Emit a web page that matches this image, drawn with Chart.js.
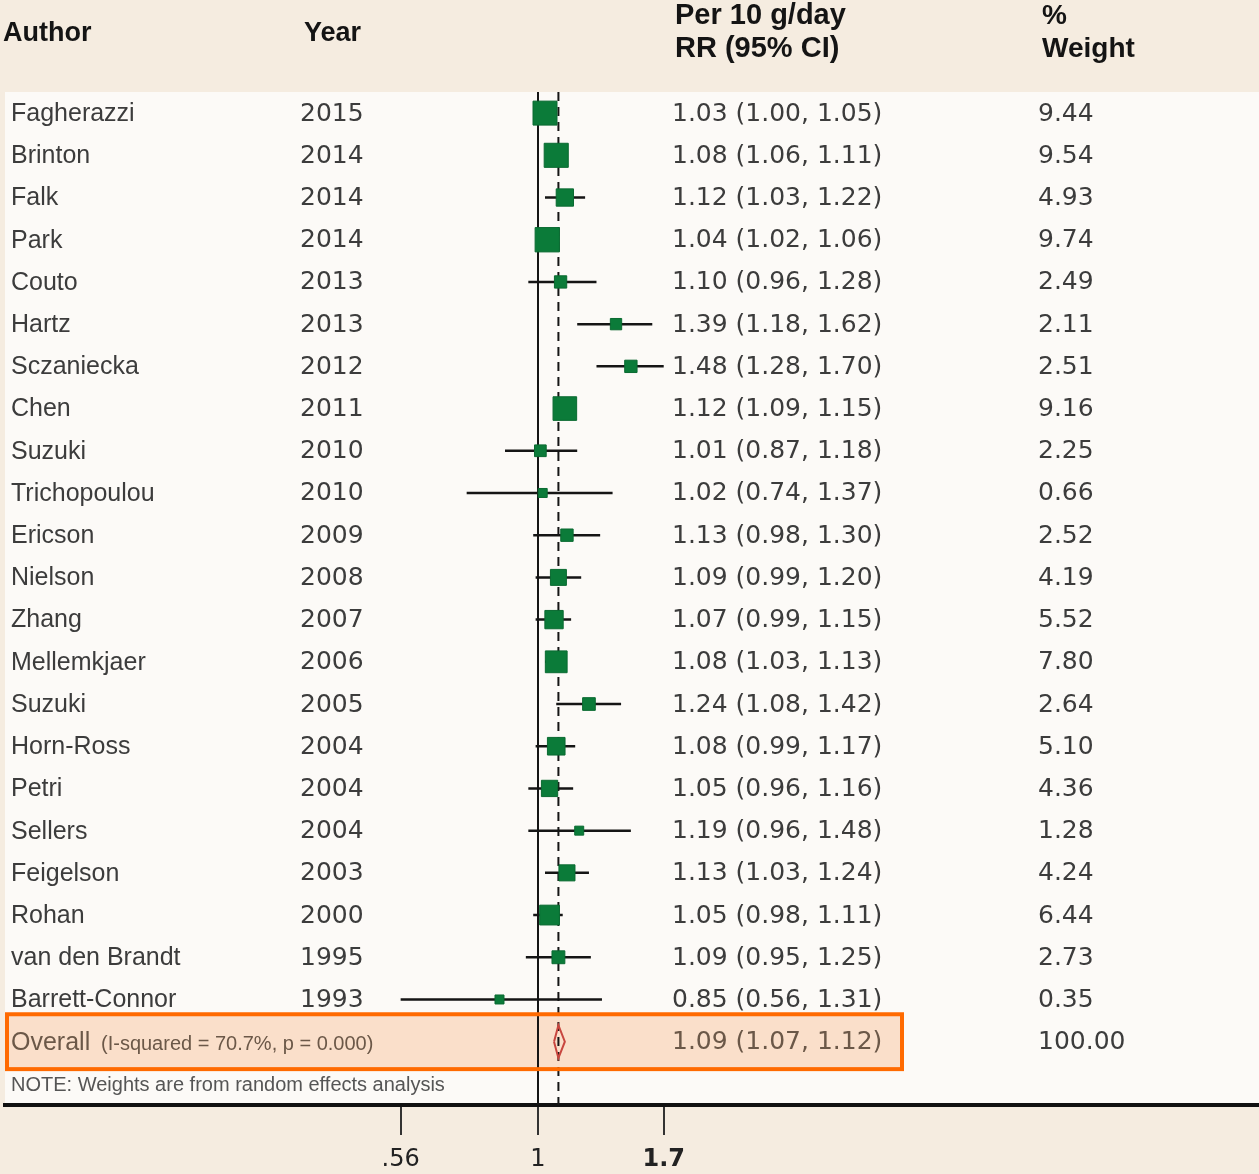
<!DOCTYPE html>
<html>
<head>
<meta charset="utf-8">
<script src="https://cdn.jsdelivr.net/npm/chart.js@4"></script>
<style>
  html, body { margin: 0; padding: 0; background: #f5ece0; }
  #wrap { width: 1259px; height: 1174px; }
</style>
</head>
<body>
<div id="wrap"><canvas id="forestChart" width="1259" height="1174"></canvas></div>
<script>
// study data, top to bottom
var authors = ["Fagherazzi", "Brinton", "Falk", "Park", "Couto", "Hartz", "Sczaniecka", "Chen",
  "Suzuki", "Trichopoulou", "Ericson", "Nielson", "Zhang", "Mellemkjaer", "Suzuki", "Horn-Ross",
  "Petri", "Sellers", "Feigelson", "Rohan", "van den Brandt", "Barrett-Connor"];
var years = [2015, 2014, 2014, 2014, 2013, 2013, 2012, 2011, 2010, 2010, 2009, 2008, 2007, 2006,
  2005, 2004, 2004, 2004, 2003, 2000, 1995, 1993];
var rr = [1.03, 1.08, 1.12, 1.04, 1.10, 1.39, 1.48, 1.12, 1.01, 1.02, 1.13, 1.09, 1.07, 1.08,
  1.24, 1.08, 1.05, 1.19, 1.13, 1.05, 1.09, 0.85];
var lower = [1.00, 1.06, 1.03, 1.02, 0.96, 1.18, 1.28, 1.09, 0.87, 0.74, 0.98, 0.99, 0.99, 1.03,
  1.08, 0.99, 0.96, 0.96, 1.03, 0.98, 0.95, 0.56];
var upper = [1.05, 1.11, 1.22, 1.06, 1.28, 1.62, 1.70, 1.15, 1.18, 1.37, 1.30, 1.20, 1.15, 1.13,
  1.42, 1.17, 1.16, 1.48, 1.24, 1.11, 1.25, 1.31];
var weights = [9.44, 9.54, 4.93, 9.74, 2.49, 2.11, 2.51, 9.16, 2.25, 0.66, 2.52, 4.19, 5.52, 7.80,
  2.64, 5.10, 4.36, 1.28, 4.24, 6.44, 2.73, 0.35];

// pooled estimate
var overallRR = 1.09;
var overallLower = 1.07;
var overallUpper = 1.12;
var overallWeight = 100.00;
var overallStats = "(I-squared = 70.7%, p = 0.000)";
var noteText = "NOTE: Weights are from random effects analysis";

// x axis
var tickValues = [0.56, 1, 1.7];
var tickLabels = [".56", "1", "1.7"];

var overallRow = authors.length;
var noteRow = overallRow + 1;

// layout
var W = 1259, H = 1174;
var plotTop = 92, plotLeft = 5, axisHeight = 69;
var onePx = 538;          // where RR = 1 sits
var pxPerLn = 236.9;      // log scale spread
var xMin = Math.exp(-(onePx - plotLeft) / pxPerLn);
var xMax = Math.exp((W - onePx) / pxPerLn);

var numFont = '"DejaVu Sans", sans-serif';
var txtFont = '"Liberation Sans", Arial, sans-serif';

function fmt(v) { return v.toFixed(2); }

// squares
var squarePoints = rr.map(function (v, i) { return { x: v, y: i }; });
var squareRadius = weights.map(function (w) {
  var side = Math.max(9, 7.8 * Math.sqrt(w));
  return side / Math.SQRT2;
});

// CI whiskers, broken with nulls
var ciPoints = [];
lower.forEach(function (lo, i) {
  ciPoints.push({ x: lo, y: i }, { x: upper[i], y: i }, { x: null, y: null });
});

var diamondPoints = [
  { x: overallLower, y: overallRow },
  { x: overallRR, y: overallRow - 0.39 },
  { x: overallUpper, y: overallRow },
  { x: overallRR, y: overallRow + 0.39 },
  { x: overallLower, y: overallRow }
];

var backgroundPlugin = {
  id: "background",
  beforeDraw: function (chart) {
    var ctx = chart.ctx, a = chart.chartArea;
    ctx.save();
    ctx.fillStyle = "#f5ece0";
    ctx.fillRect(0, 0, W, H);
    ctx.fillStyle = "#fcfaf7";
    ctx.fillRect(a.left, a.top, W - a.left, a.bottom - a.top);
    ctx.restore();
  }
};

function highlightBox(chart) {
  var y = chart.scales.y;
  var top = y.getPixelForValue(overallRow - 0.65);
  var bot = y.getPixelForValue(overallRow + 0.65);
  return { left: chart.chartArea.left + 2, right: 902, top: top, bottom: bot };
}

var highlightPlugin = {
  id: "highlight",
  beforeDatasetsDraw: function (chart) {
    var b = highlightBox(chart), ctx = chart.ctx;
    ctx.save();
    ctx.fillStyle = "#fadfca";
    ctx.fillRect(b.left, b.top, b.right - b.left, b.bottom - b.top);
    ctx.restore();
  },
  afterDatasetsDraw: function (chart) {
    var b = highlightBox(chart), ctx = chart.ctx;
    ctx.save();
    ctx.strokeStyle = "#ff6a00";
    ctx.lineWidth = 4;
    ctx.strokeRect(b.left, b.top, b.right - b.left, b.bottom - b.top);
    ctx.restore();
  }
};

var textPlugin = {
  id: "columns",
  afterDraw: function (chart) {
    var ctx = chart.ctx, y = chart.scales.y;
    ctx.save();
    ctx.textBaseline = "middle";
    ctx.textAlign = "left";

    // header
    ctx.fillStyle = "#141414";
    ctx.font = "bold 27px " + txtFont;
    ctx.fillText("Author", 3, 34);
    ctx.fillText("Year", 304, 34);
    ctx.font = "bold 29px " + txtFont;
    ctx.fillText("Per 10 g/day", 675, 16);
    ctx.fillText("RR (95% CI)", 675, 49);
    ctx.font = "bold 28px " + txtFont;
    ctx.fillText("%", 1042, 16);
    ctx.fillText("Weight", 1042, 49);

    // study rows
    authors.forEach(function (name, i) {
      var py = y.getPixelForValue(i) + 1;
      ctx.fillStyle = "#3c3c3c";
      ctx.font = "25px " + txtFont;
      ctx.fillText(name, 11, py);
      ctx.font = "25px " + numFont;
      ctx.fillText(String(years[i]), 300, py);
      ctx.fillText(fmt(rr[i]) + " (" + fmt(lower[i]) + ", " + fmt(upper[i]) + ")", 672, py);
      ctx.fillText(fmt(weights[i]), 1038, py);
    });

    // overall row
    var oy = y.getPixelForValue(overallRow) + 1;
    ctx.fillStyle = "#6b5848";
    ctx.font = "25px " + txtFont;
    ctx.fillText("Overall", 11, oy);
    ctx.font = "20px " + txtFont;
    ctx.fillText(overallStats, 101, oy + 2);
    ctx.font = "25px " + numFont;
    ctx.fillText(fmt(overallRR) + " (" + fmt(overallLower) + ", " + fmt(overallUpper) + ")", 672, oy);
    ctx.fillStyle = "#3c3c3c";
    ctx.fillText(fmt(overallWeight), 1038, oy);

    // note
    ctx.fillStyle = "#555555";
    ctx.font = "20px " + txtFont;
    ctx.fillText(noteText, 11, y.getPixelForValue(noteRow) + 2);
    ctx.restore();
  }
};

var ctx = document.getElementById("forestChart").getContext("2d");
var forestChart = new Chart(ctx, {
  type: "scatter",
  data: {
    datasets: [
      {
        label: "Study RR",
        data: squarePoints,
        pointStyle: "rect",
        pointRadius: squareRadius,
        pointHoverRadius: squareRadius,
        backgroundColor: "#0b7b39",
        borderColor: "#0a6a31",
        borderWidth: 1,
        showLine: false
      },
      {
        type: "line",
        label: "Overall",
        data: diamondPoints,
        borderColor: "#c8463f",
        borderWidth: 2,
        pointRadius: 0,
        fill: false,
        tension: 0
      },
      {
        type: "line",
        label: "95% CI",
        data: ciPoints,
        borderColor: "#151515",
        borderWidth: 2.5,
        pointRadius: 0,
        spanGaps: false,
        tension: 0
      },
      {
        type: "line",
        label: "Overall line",
        data: [{ x: overallRR, y: -0.5 }, { x: overallRR, y: noteRow + 0.5 }],
        borderColor: "#151515",
        borderWidth: 2,
        borderDash: [9, 6],
        pointRadius: 0
      },
      {
        type: "line",
        label: "No effect",
        data: [{ x: 1, y: -0.5 }, { x: 1, y: noteRow + 0.5 }],
        borderColor: "#151515",
        borderWidth: 2,
        pointRadius: 0
      }
    ]
  },
  options: {
    responsive: false,
    animation: false,
    devicePixelRatio: 1,
    layout: {
      autoPadding: false,
      padding: { top: plotTop, left: plotLeft, right: 0, bottom: 0 }
    },
    plugins: {
      legend: { display: false },
      tooltip: { enabled: false }
    },
    scales: {
      x: {
        type: "logarithmic",
        position: "bottom",
        min: xMin,
        max: xMax,
        afterBuildTicks: function (scale) {
          scale.ticks = tickValues.map(function (v) { return { value: v }; });
        },
        afterFit: function (scale) {
          scale.height = axisHeight;
          scale.paddingLeft = 0;
          scale.paddingRight = 0;
        },
        ticks: {
          autoSkip: false,
          maxRotation: 0,
          padding: 10,
          color: "#222222",
          font: function (c) {
            return { family: "DejaVu Sans", size: 24, weight: c.index === 2 ? "bold" : "normal" };
          },
          callback: function (value, index) { return tickLabels[index]; }
        },
        grid: {
          drawOnChartArea: false,
          drawTicks: true,
          tickLength: 30,
          lineWidth: 2,
          color: "#333333"
        },
        border: { display: true, width: 4, color: "#111111" }
      },
      y: {
        type: "linear",
        min: -0.5,
        max: noteRow + 0.5,
        reverse: true,
        display: false
      }
    }
  },
  plugins: [backgroundPlugin, highlightPlugin, textPlugin]
});
</script>
</body>
</html>
